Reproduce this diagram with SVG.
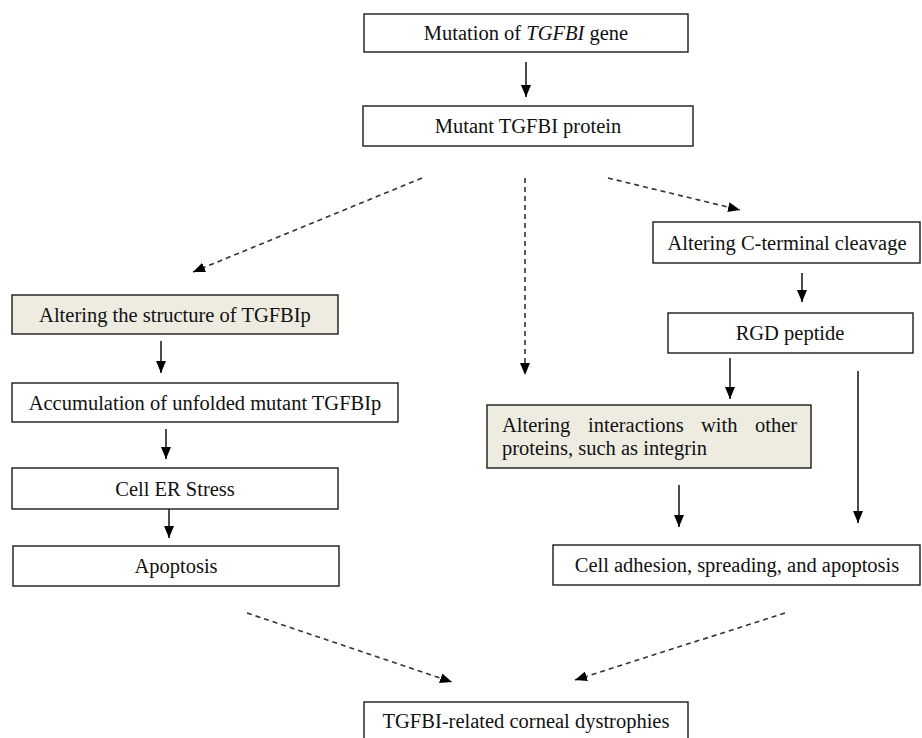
<svg xmlns="http://www.w3.org/2000/svg" width="922" height="738" viewBox="0 0 922 738">
<style>
.box{fill:#fff;stroke:#1a1a1a;stroke-width:1.4}
.hl{fill:#EEECE1}
text{font-family:"Liberation Serif","Times New Roman",serif;font-size:20.5px;fill:#111}
.c{text-anchor:middle}
.s{stroke:#111;stroke-width:1.5;fill:none}
.d{stroke:#333;stroke-width:1.6;fill:none;stroke-dasharray:5 4}
</style>
<defs>
<marker id="ah" viewBox="0 0 12 10" refX="12" refY="5" markerWidth="12" markerHeight="10" markerUnits="userSpaceOnUse" orient="auto">
<path d="M0,0 L12,5 L0,10 z" fill="#000"/>
</marker>
</defs>
<rect width="922" height="738" fill="#fff"/>
<g id="connectors">
<line class="s" x1="526" y1="62" x2="526" y2="97" marker-end="url(#ah)"/>
<line class="s" x1="161" y1="341" x2="161" y2="373" marker-end="url(#ah)"/>
<line class="s" x1="166" y1="429" x2="166" y2="459" marker-end="url(#ah)"/>
<line class="s" x1="169" y1="509" x2="169" y2="538" marker-end="url(#ah)"/>
<line class="s" x1="802" y1="273" x2="802" y2="302" marker-end="url(#ah)"/>
<line class="s" x1="730" y1="358" x2="730" y2="399" marker-end="url(#ah)"/>
<line class="s" x1="858" y1="371" x2="858" y2="523" marker-end="url(#ah)"/>
<line class="s" x1="679" y1="485" x2="679" y2="527" marker-end="url(#ah)"/>
<line class="d" x1="422" y1="178" x2="193" y2="272" marker-end="url(#ah)"/>
<line class="d" x1="525" y1="178" x2="525" y2="375" marker-end="url(#ah)"/>
<line class="d" x1="608" y1="178" x2="740" y2="210" marker-end="url(#ah)"/>
<line class="d" x1="247" y1="613" x2="452" y2="682" marker-end="url(#ah)"/>
<line class="d" x1="785" y1="613" x2="575" y2="680" marker-end="url(#ah)"/>
</g>
<g id="n1"><rect class="box" x="364" y="14" width="324" height="38"/><text class="c" x="526" y="40">Mutation of <tspan font-style="italic">TGFBI</tspan> gene</text></g>
<g id="n2"><rect class="box" x="363" y="106" width="330" height="40"/><text class="c" x="528" y="133">Mutant TGFBI protein</text></g>
<g id="n3"><rect class="box hl" x="12" y="295" width="326" height="39"/><text class="c" x="175" y="322">Altering the structure of TGFBIp</text></g>
<g id="n4"><rect class="box" x="12" y="383" width="386" height="39"/><text class="c" x="205" y="410">Accumulation of unfolded mutant TGFBIp</text></g>
<g id="n5"><rect class="box" x="12" y="468" width="326" height="41"/><text class="c" x="175" y="496">Cell ER Stress</text></g>
<g id="n6"><rect class="box" x="13" y="546" width="326" height="40"/><text class="c" x="176" y="573">Apoptosis</text></g>
<g id="n7"><rect class="box" x="653" y="222" width="267" height="41"/><text class="c" x="787" y="250">Altering C-terminal cleavage</text></g>
<g id="n8"><rect class="box" x="668" y="313" width="245" height="40"/><text class="c" x="790" y="340">RGD peptide</text></g>
<g id="n9"><rect class="box hl" x="487" y="405" width="324" height="63"/><text y="432"><tspan x="502">Altering</tspan><tspan x="588">interactions</tspan><tspan x="701">with</tspan><tspan x="755">other</tspan></text><text x="502" y="455">proteins, such as integrin</text></g>
<g id="n10"><rect class="box" x="553" y="545" width="367" height="40"/><text class="c" x="737" y="572">Cell adhesion, spreading, and apoptosis</text></g>
<g id="n11"><rect class="box" x="364" y="702" width="324" height="44"/><text class="c" x="526" y="728">TGFBI-related corneal dystrophies</text></g>
</svg>
